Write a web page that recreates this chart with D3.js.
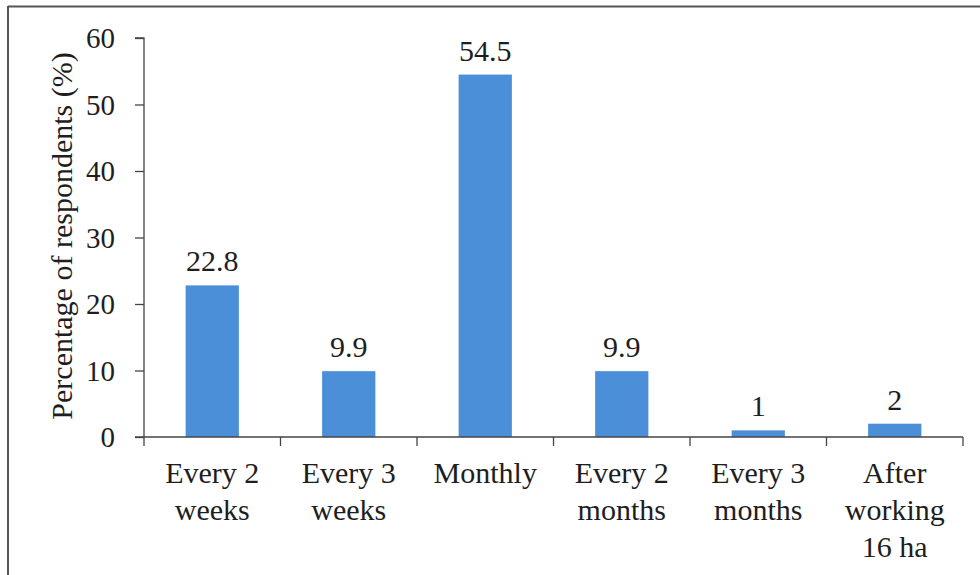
<!DOCTYPE html>
<html>
<head>
<meta charset="utf-8">
<script src="https://cdn.jsdelivr.net/npm/d3@7"></script>
<style>
    body { margin: 0; background: #fff; }
    svg { display: block; }
</style>
</head>
<body>
<svg id="chart" width="980" height="575"></svg>
<script>
const categories = [
    ["Every 2", "weeks"],
    ["Every 3", "weeks"],
    ["Monthly"],
    ["Every 2", "months"],
    ["Every 3", "months"],
    ["After", "working", "16 ha"]
];
const values = [22.8, 9.9, 54.5, 9.9, 1, 2];
const valueLabels = ["22.8", "9.9", "54.5", "9.9", "1", "2"];
const yTicks = [0, 10, 20, 30, 40, 50, 60];

const svg = d3.select('#chart');
const axisColor = '#444';
const textColor = '#1e1e1e';
const barColor = '#4a8fd7';
const fontSize = 30;

const plotLeft = 144, plotRight = 963, plotTop = 38, plotBottom = 437;

const x = d3.scaleBand()
    .domain(d3.range(categories.length))
    .range([plotLeft, plotRight])
    .paddingInner(0.61)
    .paddingOuter(0.305);

const y = d3.scaleLinear()
    .domain([0, 60])
    .range([plotBottom, plotTop]);

// Frame (only top and left edges are visible in the picture)
svg.append('line')
    .attr('x1', 8).attr('y1', 6.5).attr('x2', 980).attr('y2', 6.5)
    .attr('stroke', '#555').attr('stroke-width', 2);
svg.append('line')
    .attr('x1', 8).attr('y1', 6).attr('x2', 8).attr('y2', 575)
    .attr('stroke', '#555').attr('stroke-width', 2);

const g = svg.append('g');

// Bars
g.selectAll('rect.bar')
    .data(values)
    .enter().append('rect')
    .attr('class', 'bar')
    .attr('x', (d, i) => x(i))
    .attr('width', x.bandwidth())
    .attr('y', d => y(d))
    .attr('height', d => plotBottom - y(d))
    .attr('fill', barColor);

// Y axis: line and ticks from d3.axisLeft, labels written below as markup
const yAxis = g.append('g')
    .attr('transform', `translate(${plotLeft},0)`)
    .call(d3.axisLeft(y).tickValues(yTicks).tickSize(9).tickFormat(''));
yAxis.select('.domain').attr('stroke', axisColor).attr('stroke-width', 1.3)
    .attr('d', `M-9,${plotTop}H0V${plotBottom}`);
yAxis.selectAll('.tick line').attr('stroke', axisColor).attr('stroke-width', 1.3);
yAxis.selectAll('.tick text').remove();

// X axis line and category separators
const step = x.step();
const xb = g.append('g');
xb.append('line')
    .attr('x1', plotLeft - 9).attr('x2', plotRight)
    .attr('y1', plotBottom).attr('y2', plotBottom)
    .attr('stroke', axisColor).attr('stroke-width', 1.3);
xb.selectAll('line.sep')
    .data(d3.range(categories.length + 1))
    .enter().append('line')
    .attr('class', 'sep')
    .attr('x1', i => plotLeft + i * step).attr('x2', i => plotLeft + i * step)
    .attr('y1', plotBottom).attr('y2', plotBottom + 9)
    .attr('stroke', axisColor).attr('stroke-width', 1.3);

// Texts as markup (serif font), positioned from the scales
function txt(px, py, s, size, extra) {
    return `<text x="${px}" y="${py}" text-anchor="${extra && extra.anchor || 'middle'}"` +
        (extra && extra.transform ? ` transform="${extra.transform}"` : '') +
        ` fill="${textColor}" style="font-family:'Liberation Serif';font-size:${size}px">${s}</text>`;
}

let markup = '';
yTicks.forEach(t => {
    markup += txt(plotLeft - 29, y(t) + 10, t, 29, { anchor: 'end' });
});
categories.forEach((lines, i) => {
    const cx = x(i) + x.bandwidth() / 2;
    lines.forEach((ln, j) => {
        markup += txt(cx, 483 + j * 37, ln, fontSize);
    });
});
values.forEach((v, i) => {
    markup += txt(x(i) + x.bandwidth() / 2, y(v) - 14, valueLabels[i], fontSize);
});
markup += txt(0, 0, 'Percentage of respondents (%)', fontSize,
    { transform: 'translate(72,236) rotate(-90)' });

const labels = svg.append('g').attr('class', 'labels');
labels.node().innerHTML = markup;
</script>
</body>
</html>
